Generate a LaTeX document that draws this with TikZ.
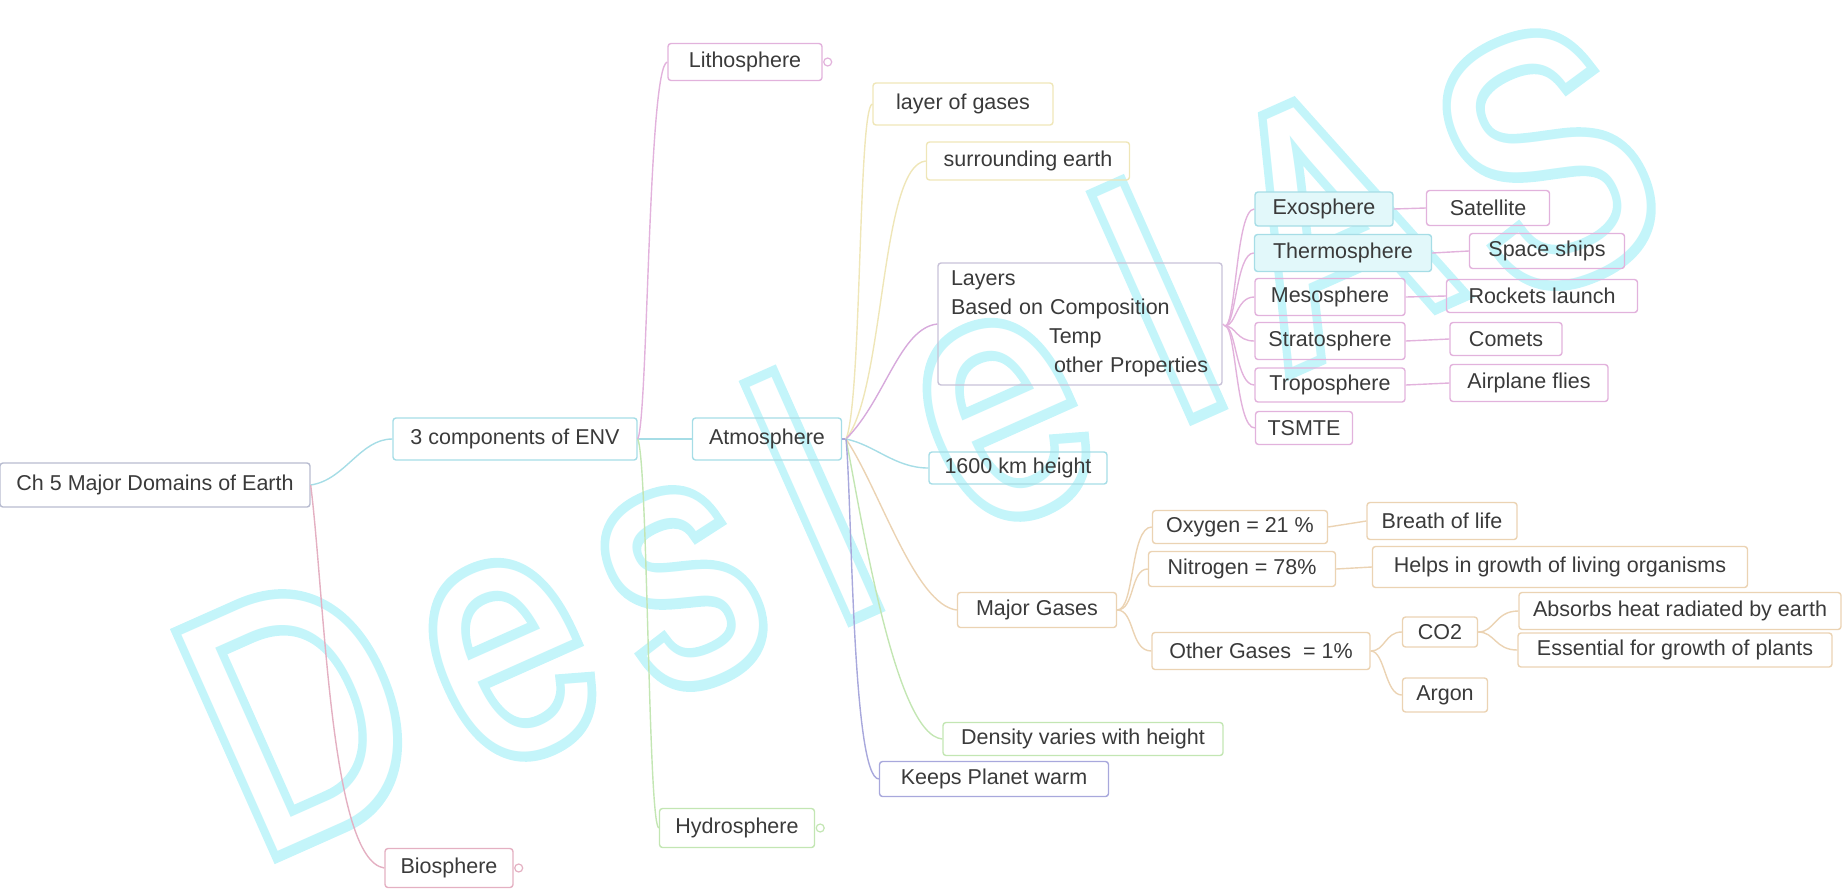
\documentclass[tikz,border=0pt]{standalone}
\usepackage{fontspec}
\setmainfont{Liberation Sans}
\newfontfamily\wmbold[FakeBold=6]{Liberation Sans}
\newfontfamily\wmplain{Liberation Sans}
\definecolor{txt}{HTML}{3A3A3A}
\definecolor{cyB}{HTML}{A6DDE6}
\definecolor{cyF}{HTML}{E2F8FA}
\definecolor{pkB}{HTML}{E2B2DC}
\definecolor{pvB}{HTML}{D7AADC}
\definecolor{yeB}{HTML}{EFE6B8}
\definecolor{orB}{HTML}{EBD3B3}
\definecolor{grB}{HTML}{C3E6B3}
\definecolor{blB}{HTML}{A8A8DC}
\definecolor{lvB}{HTML}{C8C2D8}
\definecolor{rdB}{HTML}{E4B0C2}
\definecolor{gyB}{HTML}{B8BCD0}
\definecolor{wmC}{HTML}{C4F5FA}
\tikzset{
  bx/.style={draw=#1, rounded corners=1.5pt, line width=0.7pt, inner sep=0pt,
    text=txt, font=\fontsize{10.75}{13}\selectfont},
  sz/.style 2 args={minimum width=#1*0.5pt, minimum height=#2*0.5pt},
  ln/.style={draw=#1, line width=0.7pt},
  knob/.style={draw=#1, line width=0.6pt, fill=white},
  wmk/.style={inner sep=0pt, rotate=24, xscale=0.8},
  wmout/.style={wmk, text=wmC, font=\wmbold\fontsize{172}{172}\selectfont},
  wmin/.style={wmk, text=white, font=\wmplain\fontsize{172}{172}\selectfont},
}
\begin{document}
\begin{tikzpicture}[x=0.5pt, y=-0.5pt]
\useasboundingbox (0,0) rectangle (1843,890);
% ---- watermark (outlined letters)
\foreach \ch/\x/\y [count=\i] in {D/300/712, e/511/660, s/683/588, l/812/496, e/1005/420, I/1157/300, A/1328/222, S/1546/160}
  {\node[wmout] (wmo\i) at (\x,\y) {\ch};
   \node[wmin] (wmi\i) at (\x,\y) {\ch};}
% ---- nodes
\node[bx=gyB, sz={310}{44}] (root) at (155,485) {Ch 5 Major Domains of Earth};
\node[bx=cyB, sz={244}{42}] (comp) at (515,439) {3 components of ENV};
\node[bx=cyB, sz={149}{42}] (atm) at (767,439) {Atmosphere};
\node[bx=pkB, sz={154}{37}] (litho) at (745,62) {Lithosphere};
\node[bx=grB, sz={155}{39}] (hydro) at (737,828) {Hydrosphere};
\node[bx=rdB, sz={128}{39}] (bio) at (449,868) {Biosphere};
\node[bx=yeB, sz={180}{42}] (gases) at (963,104) {layer of gases};
\node[bx=yeB, sz={203}{38}] (surr) at (1028,161) {surrounding earth};
\node[bx=lvB, sz={284}{122}, align=left, text width=129pt, inner xsep=6.5pt,
      font=\fontsize{10.75}{14.5}\selectfont] (layers) at (1080,324)
  {Layers\\Based on Composition\\\hspace*{49pt}Temp\\\hspace*{51.5pt}\mbox{other Properties}};
\node[bx=cyB, fill=cyF, sz={138}{34}] (exo) at (1324,209) {Exosphere};
\node[bx=cyB, fill=cyF, sz={177}{37}] (thermo) at (1343,253) {Thermosphere};
\node[bx=pkB, sz={150}{37}] (meso) at (1330,297) {Mesosphere};
\node[bx=pkB, sz={150}{37}] (strato) at (1330,341) {Stratosphere};
\node[bx=pkB, sz={150}{34}] (tropo) at (1330,385) {Troposphere};
\node[bx=pkB, sz={97}{33}] (tsmte) at (1304,428) {TSMTE};
\node[bx=pkB, sz={123}{35}] (sat) at (1488,208) {Satellite};
\node[bx=pkB, sz={155}{35}] (ship) at (1547,251) {Space ships};
\node[bx=pkB, sz={191}{33}] (rock) at (1542,296) {Rockets launch};
\node[bx=pkB, sz={112}{33}] (comet) at (1506,339) {Comets};
\node[bx=pkB, sz={158}{37}] (plane) at (1529,383) {Airplane flies};
\node[bx=cyB, sz={178}{32}] (km) at (1018,468) {1600 km height};
\node[bx=orB, sz={159}{35}] (major) at (1037,610) {Major Gases};
\node[bx=orB, sz={175}{33}] (oxy) at (1240,527) {Oxygen = 21 \%};
\node[bx=orB, sz={187}{35}] (nit) at (1242,569) {Nitrogen = 78\%};
\node[bx=orB, sz={218}{37}] (other) at (1261,651) {Other Gases\ \ = 1\%};
\node[bx=orB, sz={150}{37}] (breath) at (1442,521) {Breath of life};
\node[bx=orB, sz={375}{41}] (helps) at (1560,567) {Helps in growth of living organisms};
\node[bx=orB, sz={75}{30}] (co2) at (1440,632) {CO2};
\node[bx=orB, sz={322}{37}] (abs) at (1680,611) {Absorbs heat radiated by earth};
\node[bx=orB, sz={314}{34}] (ess) at (1675,650) {Essential for growth of plants};
\node[bx=orB, sz={85}{34}] (argon) at (1445,695) {Argon};
\node[bx=grB, sz={280}{33}] (dens) at (1083,739) {Density varies with height};
\node[bx=blB, sz={229}{35}] (keeps) at (994,779) {Keeps Planet warm};
% ---- collapse knobs
\draw[knob=pkB] (litho.east) ++(5,0) circle (4);
\draw[knob=grB] (hydro.east) ++(5,0) circle (4);
\draw[knob=rdB] (bio.east) ++(5,0) circle (4);
% ---- connectors
\draw[ln=cyB] (root.east) .. controls (345,480) and (360,439) .. (comp.west);
\draw[ln=rdB] (root.east) .. controls (325,600) and (330,860) .. (bio.west);
\draw[ln=cyB] (comp.east) -- (atm.west);
\draw[ln=pkB] (comp.east) .. controls (648,420) and (648,66) .. (litho.west);
\draw[ln=grB] (comp.east) .. controls (648,460) and (648,824) .. (hydro.west);
\coordinate (as) at (846,439);
\draw[ln=blB] (atm.east) -- (as);
\draw[ln=yeB] (as) .. controls (862,400) and (858,108) .. (gases.west);
\draw[ln=yeB] (as) .. controls (885,390) and (880,165) .. (surr.west);
\draw[ln=pvB] (as) .. controls (885,400) and (900,328) .. (layers.west);
\draw[ln=cyB] (as) .. controls (875,445) and (895,468) .. (km.west);
\draw[ln=orB] (as) .. controls (880,490) and (915,605) .. (major.west);
\draw[ln=grB] (as) .. controls (862,520) and (895,735) .. (dens.west);
\draw[ln=blB] (as) .. controls (852,500) and (852,778) .. (keeps.west);
% layers children
\coordinate (ls) at (1225,326);
\draw[ln=pkB] (layers.east) -- (ls);
\foreach \c in {exo,thermo,meso,strato,tropo,tsmte}
  \draw[ln=pkB] (ls) .. controls (1236,326) and (1236,0 |- \c.west) .. (\c.west);
\draw[ln=pkB] (exo.east) -- (sat.west);
\draw[ln=pkB] (thermo.east) -- (ship.west);
\draw[ln=pkB] (meso.east) -- (rock.west);
\draw[ln=pkB] (strato.east) -- (comet.west);
\draw[ln=pkB] (tropo.east) -- (plane.west);
% gases
\foreach \c in {oxy,nit,other}
  \draw[ln=orB] (major.east) .. controls (1135,610) and (1130,0 |- \c.west) .. (\c.west);
\draw[ln=orB] (oxy.east) -- (breath.west);
\draw[ln=orB] (nit.east) -- (helps.west);
\foreach \c in {co2,argon}
  \draw[ln=orB] (other.east) .. controls (1385,651) and (1385,0 |- \c.west) .. (\c.west);
\foreach \c in {abs,ess}
  \draw[ln=orB] (co2.east) .. controls (1495,632) and (1495,0 |- \c.west) .. (\c.west);
\end{tikzpicture}
\end{document}
